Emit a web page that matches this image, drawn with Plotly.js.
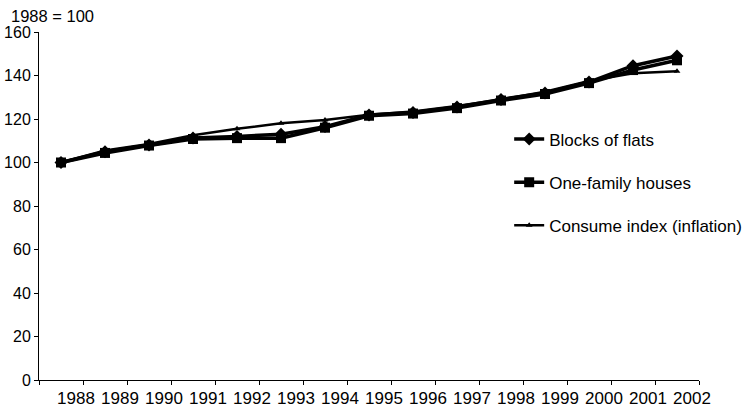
<!DOCTYPE html>
<html>
<head>
<meta charset="utf-8">
<script src="https://cdn.plot.ly/plotly-3.0.1.min.js"></script>
<style>html,body{margin:0;padding:0;background:#fff;}#chart{width:751px;height:412px;}</style>
</head>
<body>
<div id="chart"></div>
<script>
const years = ["1988","1989","1990","1991","1992","1993","1994","1995","1996","1997","1998","1999","2000","2001","2002"];
const blocksOfFlats = [100, 105, 108, 111.3, 112, 113, 116.5, 121.8, 123, 125.5, 129, 132, 137, 144.5, 149];
const oneFamilyHouses = [100, 104.4, 107.8, 110.8, 111.2, 111.2, 116, 121.5, 122.5, 125, 128.5, 131.5, 136.5, 142.5, 147];
const consumeIndex = [100, 105.5, 108.5, 112.5, 115.5, 118, 119.5, 122, 123.5, 126, 129, 132.5, 137.5, 141, 142];
const seriesNames = ["Blocks of flats", "One-family houses", "Consume index (inflation)"];
const yTicks = [0, 20, 40, 60, 80, 100, 120, 140, 160];

const FONT = "Arial, 'Liberation Sans', sans-serif";

const traces = [
  {x: years, y: blocksOfFlats, name: seriesNames[0], legendgroup: "a", mode: "lines+markers",
   line: {color: "#000", width: 3.5}, marker: {symbol: "diamond", size: 10, color: "#000"}},
  {x: years, y: oneFamilyHouses, name: seriesNames[1], legendgroup: "b", mode: "lines+markers",
   line: {color: "#000", width: 3.5}, marker: {symbol: "square", size: 10, color: "#000"}},
  {x: years, y: consumeIndex, name: seriesNames[2], legendgroup: "c", mode: "lines+markers",
   line: {color: "#000", width: 2.5}, marker: {symbol: "triangle-up", size: 6, color: "#000"}}
];

const layout = {
  width: 751, height: 412,
  paper_bgcolor: "#fff", plot_bgcolor: "#fff",
  margin: {l: 39, r: 52, t: 32, b: 32, pad: 0, autoexpand: false},
  font: {family: FONT, color: "#000", size: 16},
  showlegend: true,
  legend: {xref: "container", yref: "container", x: 0.678, xanchor: "left", y: 0.705, yanchor: "top",
           bgcolor: "rgba(0,0,0,0)",
           font: {family: FONT, size: 17, color: "#000"}, tracegroupgap: 18, traceorder: "grouped",
           itemsizing: "trace"},
  xaxis: {type: "category", range: [-0.5, 14.5], showline: true, linecolor: "#000", linewidth: 1,
          ticks: "outside", tickson: "boundaries", ticklen: 4, tickcolor: "#000", showgrid: false,
          zeroline: false, tickangle: 0, tickfont: {family: FONT, size: 17, color: "#000"},
          ticklabelshift: 15, ticklabelstandoff: 3},
  yaxis: {range: [0, 160], tickvals: yTicks, showline: true, linecolor: "#000", linewidth: 1,
          ticks: "outside", ticklen: 4, tickcolor: "#000", showgrid: false, zeroline: false,
          tickfont: {family: FONT, size: 16, color: "#000"}},
  annotations: [{text: "1988 = 100", xref: "paper", yref: "paper", x: -0.045, y: 1.0, yshift: 16,
                 xanchor: "left", yanchor: "middle", showarrow: false,
                 font: {family: FONT, size: 16.5, color: "#000"}}]
};

Plotly.newPlot("chart", traces, layout, {displayModeBar: false, staticPlot: true});
</script>
</body>
</html>
